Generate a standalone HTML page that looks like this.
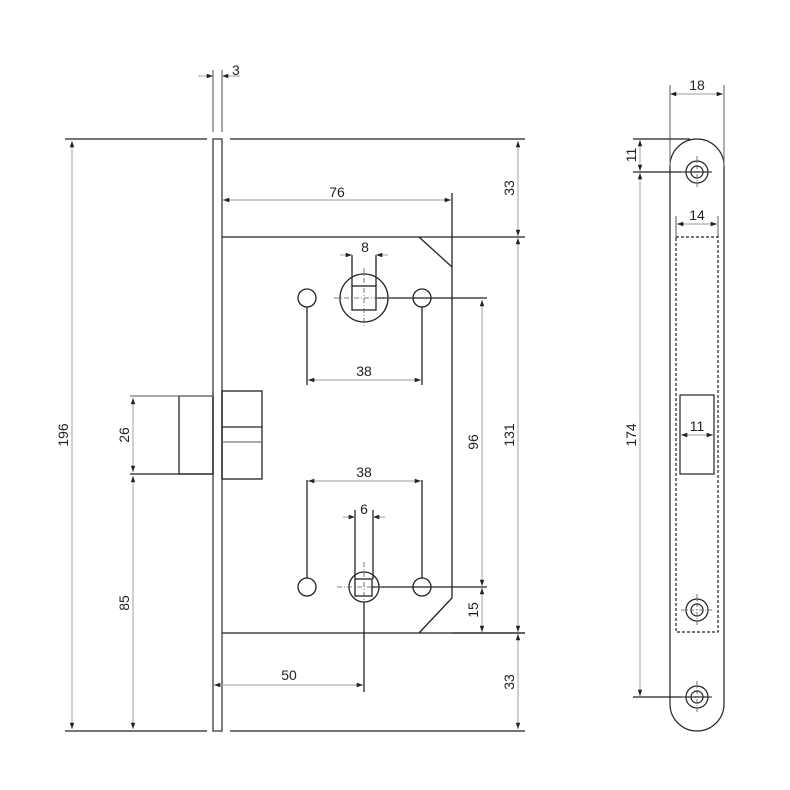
<!DOCTYPE html>
<html><head><meta charset="utf-8"><style>html,body{margin:0;padding:0;background:#fff}svg{display:block}</style></head>
<body>
<svg width="790" height="790" viewBox="0 0 790 790" xmlns="http://www.w3.org/2000/svg" font-family="Liberation Sans, sans-serif" font-size="14" fill="none">
<defs>
<marker id="a" viewBox="0 0 10 10" refX="10" refY="5" markerWidth="7" markerHeight="7" orient="auto-start-reverse"><path d="M0,1.5L10,5L0,8.5z" fill="#222"/></marker>
</defs>
<g stroke="#222" stroke-width="1.3">
<!-- faceplate -->
<rect x="213" y="139" width="9" height="592" stroke="#555" stroke-width="1.5"/>
<line x1="213" y1="70" x2="213" y2="132" stroke="#777"/>
<line x1="222" y1="70" x2="222" y2="132" stroke="#777"/>
<line x1="65" y1="139" x2="207" y2="139"/>
<line x1="230" y1="139" x2="525" y2="139"/>
<line x1="65" y1="731" x2="207" y2="731"/>
<line x1="230" y1="731" x2="525" y2="731"/>
<!-- body -->
<path d="M222,237 H525 M419,237 L452,267 V598 L419,633 M222,633 H525"/>
<!-- latch -->
<rect x="179" y="396" width="34" height="78"/>
<line x1="130" y1="396" x2="213" y2="396" stroke="#777"/>
<line x1="130" y1="474" x2="213" y2="474"/>
<rect x="222" y="391" width="40" height="88"/>
<line x1="222" y1="427" x2="262" y2="427"/>
<line x1="222" y1="442" x2="262" y2="442" stroke="#777"/>
<!-- top holes -->
<circle cx="307" cy="298" r="9"/>
<circle cx="422" cy="298" r="9"/>
<circle cx="364" cy="298" r="24"/>
<rect x="352" y="286" width="24" height="24"/>
<line x1="307" y1="307" x2="307" y2="385"/>
<line x1="422" y1="307" x2="422" y2="385"/>
<line x1="376" y1="298" x2="487" y2="298"/>
<line x1="352" y1="255" x2="352" y2="286"/>
<line x1="376" y1="255" x2="376" y2="286"/>
<line x1="452" y1="193" x2="452" y2="267"/>
<!-- bottom holes -->
<circle cx="307" cy="587" r="9"/>
<circle cx="422" cy="587" r="9"/>
<circle cx="364" cy="587" r="15"/>
<rect x="355" y="579" width="17" height="17"/>
<line x1="307" y1="480" x2="307" y2="578"/>
<line x1="422" y1="480" x2="422" y2="578"/>
<line x1="372" y1="587" x2="487" y2="587"/>
<line x1="355" y1="510" x2="355" y2="579"/>
<line x1="373" y1="510" x2="373" y2="579"/>
<line x1="364" y1="602" x2="364" y2="692"/>
<line x1="452" y1="633" x2="525" y2="633"/>
</g>
<g stroke="#555" stroke-width="0.8" stroke-dasharray="5,2,1,2">
<line x1="364" y1="268" x2="364" y2="328"/>
<line x1="334" y1="298" x2="394" y2="298"/>
<line x1="364" y1="562" x2="364" y2="600"/>
<line x1="337" y1="587" x2="385" y2="587"/>
</g>
<!-- dimensions -->
<g stroke="#999" stroke-width="0.9">
<line x1="198" y1="76" x2="213" y2="76" marker-end="url(#a)"/>
<line x1="240" y1="76" x2="222" y2="76" marker-end="url(#a)"/>
<line x1="72" y1="141" x2="72" y2="729" marker-start="url(#a)" marker-end="url(#a)"/>
<line x1="133" y1="398" x2="133" y2="472" marker-start="url(#a)" marker-end="url(#a)"/>
<line x1="133" y1="476" x2="133" y2="729" marker-start="url(#a)" marker-end="url(#a)"/>
<line x1="223" y1="200" x2="451" y2="200" marker-start="url(#a)" marker-end="url(#a)"/>
<line x1="340" y1="255" x2="352" y2="255" marker-end="url(#a)"/>
<line x1="388" y1="255" x2="376" y2="255" marker-end="url(#a)"/>
<line x1="308" y1="380" x2="421" y2="380" marker-start="url(#a)" marker-end="url(#a)"/>
<line x1="308" y1="481" x2="421" y2="481" marker-start="url(#a)" marker-end="url(#a)"/>
<line x1="343" y1="517" x2="355" y2="517" marker-end="url(#a)"/>
<line x1="385" y1="517" x2="373" y2="517" marker-end="url(#a)"/>
<line x1="214" y1="685" x2="363" y2="685" marker-start="url(#a)" marker-end="url(#a)"/>
<line x1="518" y1="141" x2="518" y2="236" marker-start="url(#a)" marker-end="url(#a)"/>
<line x1="518" y1="238" x2="518" y2="632" marker-start="url(#a)" marker-end="url(#a)"/>
<line x1="518" y1="634" x2="518" y2="729" marker-start="url(#a)" marker-end="url(#a)"/>
<line x1="482" y1="300" x2="482" y2="586" marker-start="url(#a)" marker-end="url(#a)"/>
<line x1="482" y1="588" x2="482" y2="632" marker-start="url(#a)" marker-end="url(#a)"/>
<!-- strike dims -->
<line x1="670" y1="94" x2="723" y2="94" marker-start="url(#a)" marker-end="url(#a)"/>
<line x1="640" y1="140" x2="640" y2="171" marker-start="url(#a)" marker-end="url(#a)"/>
<line x1="640" y1="173" x2="640" y2="696" marker-start="url(#a)" marker-end="url(#a)"/>
<line x1="677" y1="224" x2="717" y2="224" marker-start="url(#a)" marker-end="url(#a)"/>
<line x1="681" y1="435" x2="713" y2="435" marker-start="url(#a)" marker-end="url(#a)"/>
</g>
<g fill="#222" font-size="14">
<text x="232" y="75">3</text>
<text x="337" y="197" text-anchor="middle">76</text>
<text x="365" y="252" text-anchor="middle">8</text>
<text x="364" y="376" text-anchor="middle">38</text>
<text x="364" y="477" text-anchor="middle">38</text>
<text x="364" y="514" text-anchor="middle">6</text>
<text x="289" y="680" text-anchor="middle">50</text>
<text x="697" y="90" text-anchor="middle">18</text>
<text x="697" y="220" text-anchor="middle">14</text>
<text x="697" y="431" text-anchor="middle">11</text>
<text transform="translate(68,435) rotate(-90)" text-anchor="middle">196</text>
<text transform="translate(129,435) rotate(-90)" text-anchor="middle">26</text>
<text transform="translate(129,603) rotate(-90)" text-anchor="middle">85</text>
<text transform="translate(514,188) rotate(-90)" text-anchor="middle">33</text>
<text transform="translate(514,435) rotate(-90)" text-anchor="middle">131</text>
<text transform="translate(514,682) rotate(-90)" text-anchor="middle">33</text>
<text transform="translate(478,442) rotate(-90)" text-anchor="middle">96</text>
<text transform="translate(478,610) rotate(-90)" text-anchor="middle">15</text>
<text transform="translate(636,155) rotate(-90)" text-anchor="middle">11</text>
<text transform="translate(636,435) rotate(-90)" text-anchor="middle">174</text>
</g>
<!-- strike plate -->
<g stroke="#222" stroke-width="1.2">
<path d="M670,166 A27,27 0 0 1 724,166 V704 A27,27 0 0 1 670,704 Z"/>
<line x1="670" y1="85" x2="670" y2="166" stroke="#777"/>
<line x1="724" y1="85" x2="724" y2="166" stroke="#777"/>
<line x1="633" y1="139" x2="690" y2="139"/>
<line x1="633" y1="172" x2="712" y2="172"/>
<line x1="633" y1="697" x2="712" y2="697"/>
<line x1="676" y1="216" x2="676" y2="238" stroke="#777"/>
<line x1="718" y1="216" x2="718" y2="238" stroke="#777"/>
<circle cx="697" cy="172" r="11"/><circle cx="697" cy="172" r="6"/>
<circle cx="697" cy="610" r="11"/><circle cx="697" cy="610" r="6"/>
<circle cx="697" cy="697" r="11"/><circle cx="697" cy="697" r="6"/>
<rect x="680" y="395" width="34" height="79"/>
<rect x="676" y="237" width="42" height="395" stroke-dasharray="3,2"/>
</g>
<g stroke="#555" stroke-width="0.8" stroke-dasharray="4,2,1,2">
<line x1="697" y1="156" x2="697" y2="188"/><line x1="681" y1="172" x2="713" y2="172"/>
<line x1="697" y1="594" x2="697" y2="626"/><line x1="681" y1="610" x2="713" y2="610"/>
<line x1="697" y1="681" x2="697" y2="713"/><line x1="681" y1="697" x2="713" y2="697"/>
</g>
</svg>
</body></html>
